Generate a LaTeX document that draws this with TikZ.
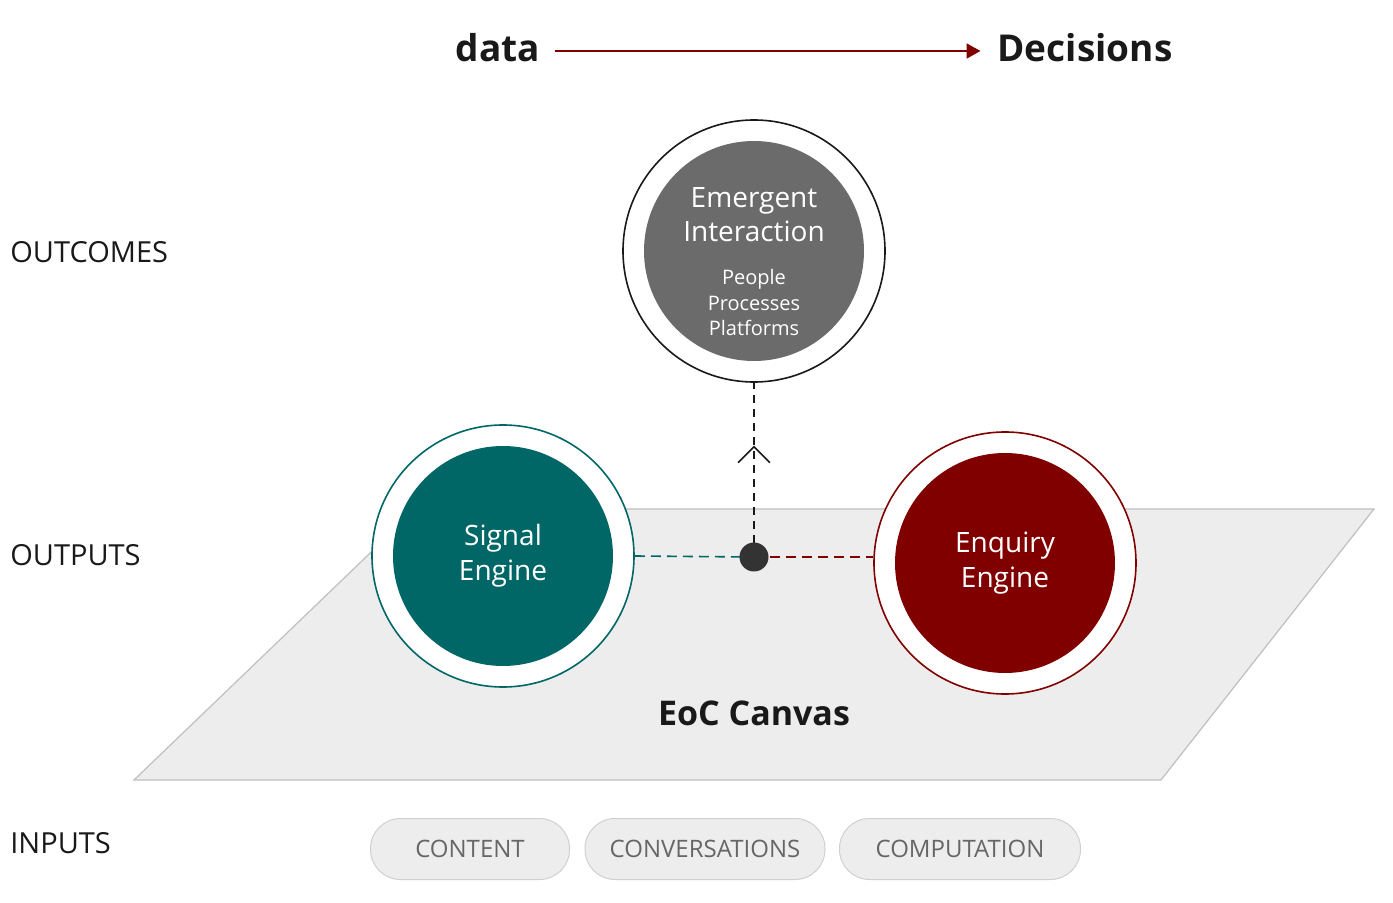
\documentclass[tikz,border=0pt]{standalone}
\usepackage{fontspec}
\setmainfont{Open Sans}
\usetikzlibrary{arrows.meta,decorations.markings,positioning}
\definecolor{eocteal}{HTML}{006666}
\definecolor{eocred}{HTML}{800000}
\definecolor{eocgray}{HTML}{6B6B6B}
\definecolor{eocdot}{HTML}{333333}
\definecolor{canvasfill}{HTML}{EDEDED}
\definecolor{canvasline}{HTML}{BFBFBF}
\definecolor{pillline}{HTML}{D0D0D0}
\definecolor{pilltext}{HTML}{666666}

\begin{document}
\begin{tikzpicture}[x=0.5pt,y=-0.5pt,
  ring/.style={circle,draw,line width=0.8pt,fill=white,minimum size=131pt,inner sep=0pt},
  core/.style={circle,minimum size=110pt,inner sep=0pt,text=white,align=center,
    font=\fontsize{14}{17.5}\selectfont},
  layer/.style={anchor=west,inner sep=0pt,text=black!90,font=\fontsize{14.5}{17}\selectfont},
  pill/.style={rounded corners=15pt,fill=canvasfill,draw=pillline,line width=0.5pt,
    text=pilltext,minimum height=30.5pt,font=\fontsize{12}{14}\selectfont},
  headword/.style={text=black!90,font=\bfseries\fontsize{18.5}{22}\selectfont}]
  \useasboundingbox (0,0) rectangle (1393,903);

  % Canvas plane
  \filldraw[fill=canvasfill,draw=canvasline,line width=0.6pt]
    (134,780) -- (1161,780) -- (1374,509) -- (416,509) -- cycle;
  \node[text=black!90,font=\bfseries\fontsize{17}{20}\selectfont] (canvas) at (754,713) {EoC Canvas};

  % Layer labels
  \node[layer] (outcomes) at (10,252) {OUTCOMES};
  \node[layer] (outputs) at (10,555) {OUTPUTS};
  \node[layer] (inputs) at (10,843) {INPUTS};

  % data -> Decisions
  \node[headword] (data) at (498,48) {data};
  \node[headword] (decisions) at (1085,48) {Decisions};
  \draw[eocred,line width=1pt,-{Triangle[length=7pt,width=7.5pt]},shorten <=4pt,shorten >=5pt]
    ([yshift=-1.5pt]data.east) -- ([yshift=-1.5pt]decisions.west);

  % Engines
  \node[ring,draw=eocteal] (signalring) at (503,556) {};
  \node[core,fill=eocteal] (signal) at (503,556) {Signal\\Engine};
  \node[ring,draw=eocred] (enquiryring) at (1005,563) {};
  \node[core,fill=eocred] (enquiry) at (1005,563) {Enquiry\\Engine};

  % Emergent interaction
  \node[ring,draw=black!90] (emergentring) at (754,251) {};
  \node[core,fill=eocgray] (emergent) at (754,251) {};
  \node[text=white,align=center,font=\fontsize{14}{17}\selectfont] (emergenttitle) at (754,215)
    {Emergent\\Interaction};
  \node[text=white,align=center,font=\fontsize{10}{12.75}\selectfont] (emergentlist) at (754,303)
    {People\\Processes\\Platforms};

  % Hub and links
  \coordinate (hubpt) at (754,557);
  \draw[eocteal,line width=0.8pt,dash pattern=on 5pt off 3pt] (signalring.east) -- (hubpt);
  \draw[eocred,line width=0.8pt,dash pattern=on 5pt off 3pt] (hubpt) -- (hubpt -| enquiryring.west);
  \draw[black!90,line width=0.6pt,dash pattern=on 4pt off 3pt,
    decoration={markings,mark=at position 0.64 with {\arrow[black!90,line width=0.8pt]{Straight Barb[length=8pt,width=16pt]}}},
    postaction={decorate}] (hubpt) -- (emergentring.south);
  \node[circle,fill=eocdot,minimum size=14.5pt,inner sep=0pt] (hub) at (hubpt) {};

  % Inputs
  \node[pill,minimum width=99.5pt] (content) at (470,849) {CONTENT};
  \node[pill,minimum width=120pt] (conversations) at (705,849) {CONVERSATIONS};
  \node[pill,minimum width=120.5pt] (computation) at (960,849) {COMPUTATION};
\end{tikzpicture}
\end{document}
